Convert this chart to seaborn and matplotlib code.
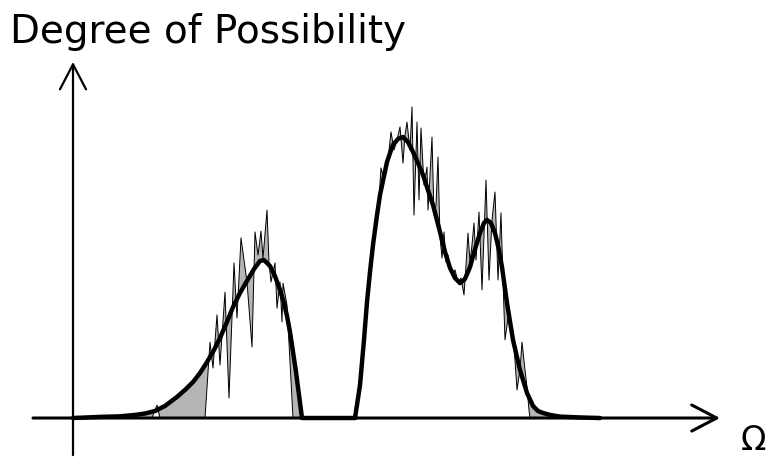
import numpy as np
import pandas as pd
import matplotlib
matplotlib.use("Agg")
import matplotlib.pyplot as plt
import seaborn as sns

# Observed (noisy) possibility distribution over Omega
noisy_x = [0.00, 0.79, 0.84, 0.87, 1.32, 1.37, 1.40, 1.44, 1.47, 1.52, 1.56, 1.61, 1.64, 1.68,
           1.74, 1.79, 1.82, 1.85, 1.88, 1.90, 1.94, 1.96, 1.98, 2.02, 2.04, 2.07, 2.09, 2.10,
           2.14, 2.17, 2.20,
           2.83, 2.86, 2.90, 2.93, 2.96, 2.99, 3.03, 3.05, 3.08, 3.11, 3.13, 3.15, 3.18, 3.21,
           3.24, 3.27, 3.30, 3.32, 3.34, 3.37, 3.39, 3.41, 3.44, 3.46, 3.48, 3.51, 3.54, 3.55,
           3.57, 3.59, 3.61, 3.63, 3.65, 3.67, 3.69, 3.71, 3.73, 3.75, 3.77, 3.79, 3.82, 3.85,
           3.88, 3.91, 3.93, 3.95, 3.97, 3.99, 4.01, 4.03, 4.06, 4.09, 4.13, 4.16, 4.19, 4.22,
           4.25, 4.28, 4.30, 4.32, 4.35, 4.39, 4.42, 4.44, 4.47, 4.49, 4.52, 4.54, 4.56, 4.57,
           5.27]
noisy_y = [0.000, 0.000, 0.046, 0.000, 0.000, 0.270, 0.178, 0.367, 0.189, 0.448, 0.071, 0.552, 0.356, 0.641,
           0.484, 0.253, 0.662, 0.580, 0.665, 0.569, 0.740, 0.555, 0.484, 0.552, 0.391, 0.484, 0.342, 0.480,
           0.402, 0.199, 0.000,
           0.000, 0.082, 0.260, 0.413, 0.456, 0.580, 0.715, 0.722, 0.890, 0.847, 0.911, 0.918, 1.018, 0.954,
           0.989, 1.036, 0.907, 1.007, 1.053, 0.954, 1.107, 0.722, 1.053, 0.776, 1.032, 0.829, 0.893, 0.740,
           0.865, 1.000, 0.722, 0.758, 0.929, 0.644, 0.569, 0.662, 0.555, 0.580, 0.537, 0.509, 0.527, 0.484,
           0.498, 0.438, 0.544, 0.658, 0.555, 0.616, 0.694, 0.562, 0.733, 0.456, 0.847, 0.491, 0.705, 0.804,
           0.491, 0.730, 0.491, 0.278, 0.356, 0.324, 0.206, 0.100, 0.171, 0.270, 0.171, 0.110, 0.028, 0.000,
           0.000]

# Fitted (smooth) possibility distribution
smooth_x = [0.00, 0.27, 0.47, 0.62, 0.72, 0.82, 0.92, 1.04, 1.12, 1.20, 1.27, 1.34, 1.41, 1.47,
            1.54, 1.60, 1.67, 1.74, 1.81, 1.87, 1.91, 1.97, 2.02, 2.07, 2.11, 2.14,
            2.17, 2.20, 2.23, 2.26, 2.29,
            2.82, 2.87, 2.91, 2.94, 2.97, 3.00, 3.04, 3.07, 3.11, 3.14, 3.17, 3.20, 3.25, 3.30,
            3.35, 3.40, 3.45, 3.50, 3.55, 3.60, 3.67, 3.72, 3.77, 3.82, 3.87, 3.92, 3.97, 4.02,
            4.07, 4.11, 4.14, 4.18, 4.22, 4.26, 4.29, 4.34, 4.40, 4.47, 4.54, 4.60, 4.65, 4.70,
            4.77, 4.87, 5.07, 5.27]
smooth_y = [0.000, 0.004, 0.006, 0.011, 0.016, 0.025, 0.043, 0.075, 0.100, 0.128, 0.160, 0.199, 0.242, 0.285,
            0.342, 0.395, 0.445, 0.488, 0.530, 0.559, 0.562, 0.541, 0.505, 0.456, 0.409, 0.363,
            0.306, 0.235, 0.164, 0.082, 0.000,
            0.000, 0.117, 0.278, 0.413, 0.520, 0.616, 0.722, 0.794, 0.861, 0.911, 0.943, 0.972, 0.993, 1.000,
            0.982, 0.947, 0.907, 0.865, 0.811, 0.758, 0.662, 0.591, 0.534, 0.498, 0.480, 0.495, 0.537, 0.601,
            0.658, 0.694, 0.705, 0.694, 0.658, 0.598, 0.537, 0.409, 0.278, 0.171, 0.089, 0.043, 0.025, 0.018,
            0.011, 0.005, 0.002, 0.000]

y_label = "Degree of Possibility"
x_label = "\u03A9"

sns.set_theme(style="white")
plt.rcParams["font.family"] = ["DejaVu Sans"]

fig = plt.figure(figsize=(7.69, 4.58), dpi=100)
ax = fig.add_axes([0, 0, 1, 1])
ax.set_axis_off()
ax.set_xlim(-0.73, 6.96)
ax.set_ylim(-0.1423, 1.4875)

noisy = pd.DataFrame({"x": noisy_x, "y": noisy_y})
smooth = pd.DataFrame({"x": smooth_x, "y": smooth_y})

# Shaded discrepancy between observation and fit
poly_x = np.concatenate([noisy["x"].to_numpy(), smooth["x"].to_numpy()[::-1]])
poly_y = np.concatenate([noisy["y"].to_numpy(), smooth["y"].to_numpy()[::-1]])
ax.fill(poly_x, poly_y, color="#b5b5b5", lw=0, zorder=1)

sns.lineplot(data=noisy, x="x", y="y", ax=ax, color="black", lw=0.7,
             estimator=None, sort=False, zorder=2)
sns.lineplot(data=smooth, x="x", y="y", ax=ax, color="black", lw=3.2,
             estimator=None, sort=False, zorder=3)

# Axes drawn as arrows
ax.annotate("", xy=(6.47, 0), xytext=(-0.40, 0),
            arrowprops=dict(arrowstyle="->,head_length=0.9,head_width=0.47",
                            lw=2.2, color="black", shrinkA=0, shrinkB=0,
                            mutation_scale=20), zorder=4)
ax.annotate("", xy=(0, 1.267), xytext=(0, -0.132),
            arrowprops=dict(arrowstyle="->,head_length=0.9,head_width=0.47",
                            lw=1.6, color="black", shrinkA=0, shrinkB=0,
                            mutation_scale=20), zorder=4)

ax.text(10 / 769, 1 - 43 / 458, y_label, transform=ax.transAxes,
        fontsize=28, ha="left", va="baseline", color="black")
ax.text(741 / 769, 1 - 457 / 458, x_label, transform=ax.transAxes,
        fontsize=24, ha="left", va="bottom", color="black")

fig.savefig("out.png", dpi=100)
